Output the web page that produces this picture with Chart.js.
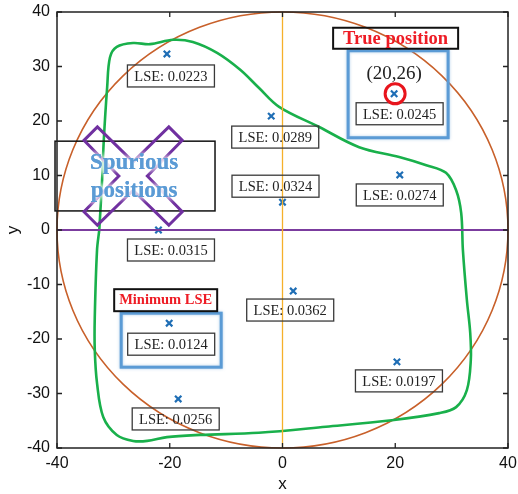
<!DOCTYPE html>
<html>
<head>
<meta charset="utf-8">
<script src="https://cdn.jsdelivr.net/npm/chart.js@4.4.0/dist/chart.umd.min.js"></script>
<style>
  html, body { margin: 0; padding: 0; background: #fff; }
  #wrap { width: 518px; height: 494px; }
</style>
</head>
<body>
<div id="wrap"><canvas id="chart" width="518" height="494"></canvas></div>
<script>
// candidate positions and their LSE
let candX = [-20.5, -2, 0, 19.8, 20.8, -22, 1.9, -20.1, -18.5, 20.3];
let candY = [32.3, 20.9, 5.1, 25, 10.1, 0, -11.2, -17.1, -31, -24.2];
let lseLabels = ['LSE: 0.0223', 'LSE: 0.0289', 'LSE: 0.0324', 'LSE: 0.0245', 'LSE: 0.0274',
                 'LSE: 0.0315', 'LSE: 0.0362', 'LSE: 0.0124', 'LSE: 0.0256', 'LSE: 0.0197'];

// green boundary curve
let curveX = [-32.5, -32.0, -31.7, -31.1, -30.6, -29.4, -26.5, -23.5, -19.4, -15.9, -11.6, -7.5, -4.2, -0.6,
              6.5, 13.6, 20.7, 25.5, 29.0, 30.8, 31.7, 32.0, 32.7, 33.3, 33.4, 32.7, 30.8, 27.8, 19.4, 7.7,
              -4.2, -14.6, -20.5, -24.0, -26.5, -29.4, -31.8, -32.9, -33.3, -33.3, -32.9, -32.5];
let curveY = [0, 9.2, 16.5, 26.2, 31.7, 33.6, 34.3, 34.1, 34.9, 34.5, 32.5, 29.4, 26.1, 22.6,
              18.9, 15.2, 13.4, 11.9, 10.5, 7.3, 3.1, -3.7, -12.8, -18.9, -23.9, -29.4, -32.5, -33.6, -34.9, -36.1,
              -37.2, -37.6, -38.0, -38.7, -38.7, -37.6, -34.3, -28.1, -22.0, -16.0, -3.7, 0];

let circleRadius = [40];
let axisRefX = [0];
let axisRefY = [0];
let xTicks = [-40, -20, 0, 20, 40];
let yTicks = [-40, -30, -20, -10, 0, 10, 20, 30, 40];

let trueIdx = 3, minIdx = 7;
let trueLabel = '(20,26)';

// label box offsets (pixels from the marker)
let boxOffsets = [[4, 22], [4, 21], [-7, -16], [5.5, 20], [0, 20], [12.5, 20], [-3, 19], [2, 21], [-2.5, 20], [2, 19]];

let candPoints = candX.map((x, i) => ({ x: x, y: candY[i] }));
let curvePoints = curveX.map((x, i) => ({ x: x, y: curveY[i] }));

const serif = '"Liberation Serif", "Times New Roman", serif';
const sans = '"Liberation Sans", Arial, sans-serif';

let decorPlugin = {
    id: 'decor',
    beforeDatasetsDraw(chart) {
        let ctx = chart.ctx;
        let xs = chart.scales.x, ys = chart.scales.y;
        let cx = xs.getPixelForValue(0), cy = ys.getPixelForValue(0);
        let rx = xs.getPixelForValue(circleRadius[0]) - cx;
        let ry = cy - ys.getPixelForValue(circleRadius[0]);
        ctx.save();
        ctx.beginPath();
        ctx.ellipse(cx, cy, rx, ry, 0, 0, Math.PI * 2);
        ctx.strokeStyle = '#c8602a';
        ctx.lineWidth = 1.6;
        ctx.stroke();
        ctx.restore();
    },
    afterDatasetsDraw(chart) {
        let ctx = chart.ctx;
        let xs = chart.scales.x, ys = chart.scales.y;
        ctx.save();

        // LSE boxes
        ctx.font = '14.5px ' + serif;
        ctx.textAlign = 'center';
        ctx.textBaseline = 'middle';
        candPoints.forEach((p, i) => {
            let px = xs.getPixelForValue(p.x) + boxOffsets[i][0];
            let py = ys.getPixelForValue(p.y) + boxOffsets[i][1];
            ctx.strokeStyle = '#3a3a3a';
            ctx.lineWidth = 1.3;
            ctx.strokeRect(px - 43.5, py - 11, 87, 22);
            ctx.fillStyle = '#222';
            ctx.fillText(lseLabels[i], px, py + 1);
        });

        // true position / minimum LSE groups
        let tx = xs.getPixelForValue(candX[trueIdx]), ty = ys.getPixelForValue(candY[trueIdx]);
        ctx.shadowColor = 'rgba(91,155,213,0.5)';
        ctx.shadowBlur = 3;
        ctx.strokeStyle = '#5b9bd5';
        ctx.lineWidth = 3;
        ctx.strokeRect(tx - 46, ty - 43, 100, 87);
        let mx = xs.getPixelForValue(candX[minIdx]), my = ys.getPixelForValue(candY[minIdx]);
        ctx.strokeRect(mx - 48, my - 10, 100, 54);
        ctx.shadowBlur = 0;
        ctx.shadowColor = 'transparent';

        ctx.strokeStyle = '#111';
        ctx.lineWidth = 2;
        ctx.strokeRect(tx - 61, ty - 66, 125, 21);
        ctx.strokeRect(mx - 55, my - 34, 103, 22);
        ctx.fillStyle = '#ee1c25';
        ctx.font = 'bold 18.5px ' + serif;
        ctx.fillText('True position', tx + 1.5, ty - 55);
        ctx.font = 'bold 14.5px ' + serif;
        ctx.fillText('Minimum LSE', mx - 3.5, my - 22.5);

        ctx.fillStyle = '#222';
        ctx.font = '19px ' + serif;
        ctx.fillText(trueLabel, tx, ty - 20);

        ctx.beginPath();
        ctx.arc(tx + 1, ty, 10, 0, Math.PI * 2);
        ctx.strokeStyle = '#e8141c';
        ctx.lineWidth = 3;
        ctx.stroke();

        // spurious positions box
        let bl = xs.getPixelForValue(-40.35), br = xs.getPixelForValue(-11.97);
        let bt = ys.getPixelForValue(16.3), bb = ys.getPixelForValue(3.5);
        ctx.strokeStyle = '#111';
        ctx.lineWidth = 1.5;
        ctx.strokeRect(bl, bt, br - bl, bb - bt);

        // hollow purple X
        let xc = xs.getPixelForValue(-26.5), yc = ys.getPixelForValue(9.9);
        let L = 60, w = 9.5;
        let pts = [];
        let dirs = [[-1, -1], [1, -1], [1, 1], [-1, 1]];
        let s2 = Math.SQRT1_2;
        for (let k = 0; k < 4; k++) {
            let d = dirs[k];
            let ux = d[0] * s2, uy = d[1] * s2;
            let nx = -uy, ny = ux;
            let ex = xc + ux * L, ey = yc + uy * L;
            pts.push([ex - nx * w, ey - ny * w]);
            pts.push([ex + nx * w, ey + ny * w]);
            let nd = dirs[(k + 1) % 4];
            let ix = (d[0] + nd[0]) / 2, iy = (d[1] + nd[1]) / 2;
            pts.push([xc + ix * w * 1.5, yc + iy * w * 1.5]);
        }
        ctx.beginPath();
        pts.forEach((p, i) => i ? ctx.lineTo(p[0], p[1]) : ctx.moveTo(p[0], p[1]));
        ctx.closePath();
        ctx.strokeStyle = '#7030a0';
        ctx.lineWidth = 3;
        ctx.stroke();

        ctx.font = 'bold 23px ' + serif;
        ctx.fillStyle = '#5b9bd5';
        ctx.shadowColor = 'rgba(255,255,255,1)';
        ctx.shadowBlur = 6;
        for (let k = 0; k < 3; k++) {
            ctx.fillText('Spurious', xc + 1, yc - 13);
            ctx.fillText('positions', xc + 1, yc + 15);
        }
        ctx.shadowBlur = 0;
        ctx.restore();
    },
    afterDraw(chart) {
        let ctx = chart.ctx;
        let xs = chart.scales.x, ys = chart.scales.y;
        let a = chart.chartArea;
        ctx.save();
        ctx.strokeStyle = '#222';
        ctx.lineWidth = 1.5;
        ctx.strokeRect(a.left, a.top, a.right - a.left, a.bottom - a.top);
        ctx.lineWidth = 1.3;
        ctx.beginPath();
        xTicks.forEach(v => {
            let px = xs.getPixelForValue(v);
            ctx.moveTo(px, a.bottom); ctx.lineTo(px, a.bottom - 5);
            ctx.moveTo(px, a.top); ctx.lineTo(px, a.top + 5);
        });
        yTicks.forEach(v => {
            let py = ys.getPixelForValue(v);
            ctx.moveTo(a.left, py); ctx.lineTo(a.left + 5, py);
            ctx.moveTo(a.right, py); ctx.lineTo(a.right - 5, py);
        });
        ctx.stroke();

        ctx.fillStyle = '#111';
        ctx.font = '17px ' + sans;
        ctx.textAlign = 'center';
        ctx.textBaseline = 'middle';
        ctx.fillText('x', (a.left + a.right) / 2, 484);
        ctx.translate(13, (a.top + a.bottom) / 2);
        ctx.rotate(-Math.PI / 2);
        ctx.fillText('y', 0, 0);
        ctx.restore();
    }
};

let ctx = document.getElementById('chart').getContext('2d');
new Chart(ctx, {
    type: 'scatter',
    data: {
        datasets: [
            {
                data: axisRefX.map(v => [{ x: v, y: -40 }, { x: v, y: 40 }]).flat(),
                showLine: true, borderColor: '#f5b02a', borderWidth: 1.3, pointRadius: 0
            },
            {
                data: axisRefY.map(v => [{ x: -40, y: v }, { x: 40, y: v }]).flat(),
                showLine: true, borderColor: '#7b3c9e', borderWidth: 2, pointRadius: 0
            },
            {
                data: curvePoints,
                showLine: true, borderColor: '#19b04b', borderWidth: 2.6, pointRadius: 0, tension: 0.35
            },
            {
                data: candPoints,
                pointStyle: 'crossRot', pointRadius: 4.5, borderWidth: 2.2,
                borderColor: '#1f6eb5', backgroundColor: '#1f6eb5'
            }
        ]
    },
    options: {
        responsive: false,
        animation: false,
        layout: { padding: { top: 12, right: 10, left: 0, bottom: 0 } },
        plugins: { legend: { display: false }, tooltip: { enabled: false } },
        scales: {
            x: {
                type: 'linear', min: -40, max: 40,
                grid: { display: false, drawTicks: false }, border: { display: false },
                ticks: { stepSize: 20, padding: 6, color: '#111', font: { family: sans, size: 16 } },
                afterFit: s => { s.height = 46; s.paddingLeft = 0; s.paddingRight = 0; }
            },
            y: {
                type: 'linear', min: -40, max: 40,
                grid: { display: false, drawTicks: false }, border: { display: false },
                ticks: { stepSize: 10, padding: 7, color: '#111', font: { family: sans, size: 16 } },
                afterFit: s => { s.width = 57; s.paddingTop = 0; s.paddingBottom = 0; }
            }
        }
    },
    plugins: [decorPlugin]
});
</script>
</body>
</html>
